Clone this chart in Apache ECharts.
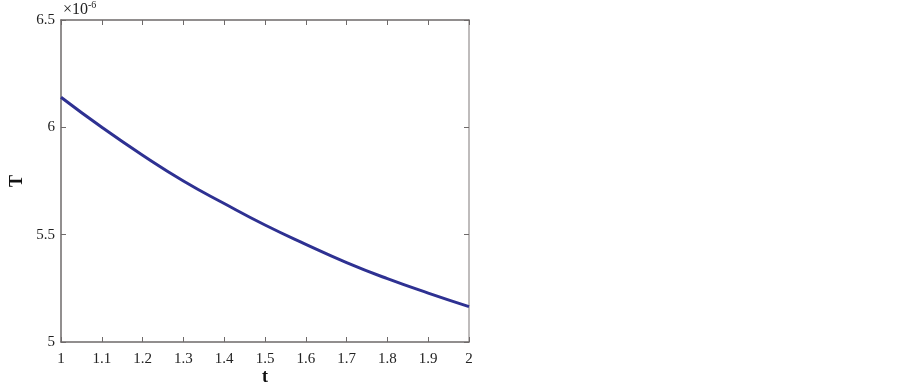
<!DOCTYPE html>
<html>
<head>
<meta charset="utf-8">
<script src="https://cdn.jsdelivr.net/npm/echarts@6/dist/echarts.min.js"></script>
<style>
html,body{margin:0;padding:0;background:#fff;}
#c{width:902px;height:383px;}
</style>
</head>
<body>
<div id="c"></div>
<script>
var tValues = [1.0, 1.1, 1.2, 1.3, 1.4, 1.5, 1.6, 1.7, 1.8, 1.9, 2.0];
var TValues = [6.14, 6.00, 5.87, 5.75, 5.645, 5.545, 5.455, 5.37, 5.295, 5.228, 5.165];
var xTicks = [1, 1.1, 1.2, 1.3, 1.4, 1.5, 1.6, 1.7, 1.8, 1.9, 2];
var yTicks = [5, 5.5, 6, 6.5];

var chart = echarts.init(document.getElementById('c'), null, {renderer: 'canvas'});
var font = '"Liberation Serif", "Times New Roman", serif';
var data = tValues.map(function (t, i) { return [t, TValues[i]]; });

function fmt(v) { return String(Math.round(v * 100) / 100); }

chart.setOption({
  animation: false,
  backgroundColor: '#ffffff',
  grid: {left: 61, top: 20, width: 408, height: 322, containLabel: false, outerBoundsMode: 'none'},
  xAxis: [{
    type: 'value', min: xTicks[0], max: xTicks[xTicks.length - 1], interval: 0.1,
    position: 'bottom',
    axisLine: {show: true, lineStyle: {color: '#6e6a6a', width: 1.5}},
    axisTick: {show: true, inside: true, length: 5, lineStyle: {color: '#6e6a6a'}},
    axisLabel: {color: '#222', fontFamily: font, fontSize: 15, margin: 10, formatter: fmt},
    splitLine: {show: false},
    name: 't', nameLocation: 'middle', nameGap: 26, nameMoveOverlap: false,
    nameTextStyle: {color: '#111', fontFamily: font, fontSize: 18, fontWeight: 'bold'}
  }, {
    type: 'value', min: xTicks[0], max: xTicks[xTicks.length - 1], interval: 0.1,
    position: 'top',
    axisLine: {show: true, lineStyle: {color: '#6e6a6a', width: 1.5}},
    axisTick: {show: true, inside: true, length: 5, lineStyle: {color: '#6e6a6a'}},
    axisLabel: {show: false},
    splitLine: {show: false}
  }],
  yAxis: [{
    type: 'value', min: yTicks[0], max: yTicks[yTicks.length - 1], interval: 0.5,
    position: 'left',
    axisLine: {show: true, lineStyle: {color: '#6e6a6a', width: 1.5}},
    axisTick: {show: true, inside: true, length: 5, lineStyle: {color: '#6e6a6a'}},
    axisLabel: {color: '#222', fontFamily: font, fontSize: 15, margin: 6, formatter: fmt},
    splitLine: {show: false},
    name: 'T', nameLocation: 'middle', nameGap: 35, nameRotate: 90, nameMoveOverlap: false,
    nameTextStyle: {color: '#111', fontFamily: font, fontSize: 18, fontWeight: 'bold'}
  }, {
    type: 'value', min: yTicks[0], max: yTicks[yTicks.length - 1], interval: 0.5,
    position: 'right',
    axisLine: {show: true, lineStyle: {color: '#aaa6a6', width: 1.5}},
    axisTick: {show: true, inside: true, length: 5, lineStyle: {color: '#6e6a6a'}},
    axisLabel: {show: false},
    splitLine: {show: false}
  }],
  graphic: [{
    type: 'text', left: 63, top: 0,
    style: {
      text: '{a|×10}{b|-6}',
      rich: {
        a: {fontFamily: font, fontSize: 16, fill: '#222'},
        b: {fontFamily: font, fontSize: 10, fill: '#222', verticalAlign: 'top', padding: [0, 0, 9, 0]}
      }
    }
  }],
  series: [{
    type: 'line', xAxisIndex: 0, yAxisIndex: 0,
    data: data, smooth: true, showSymbol: false,
    lineStyle: {color: '#2e3192', width: 3}
  }]
});
</script>
</body>
</html>
